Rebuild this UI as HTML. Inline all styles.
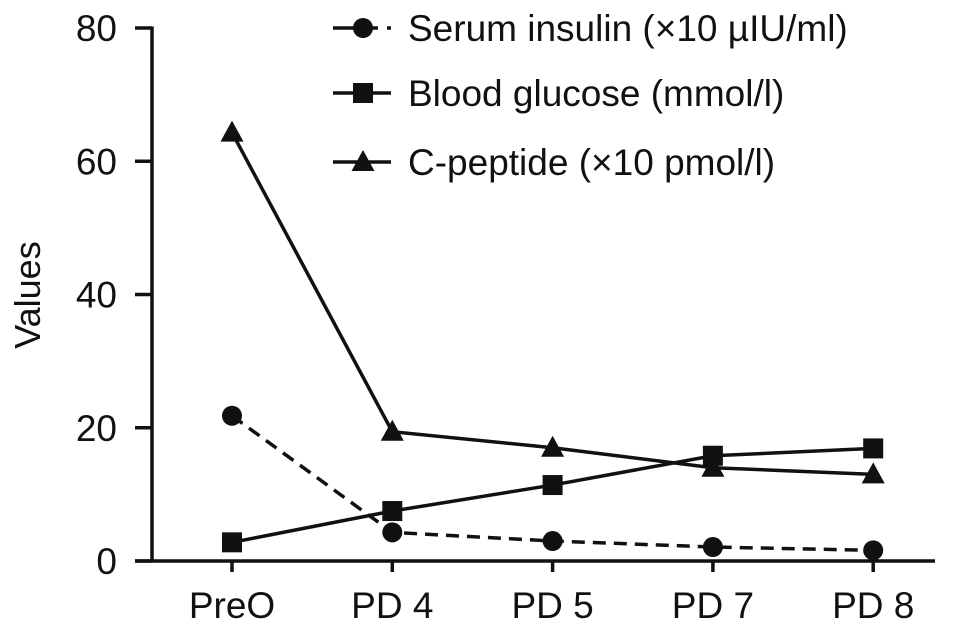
<!DOCTYPE html>
<html><head><meta charset="utf-8"><style>
html,body{margin:0;padding:0;background:#fff}
svg text{font-family:"Liberation Sans",Arial,sans-serif;fill:#111}
</style></head><body>
<svg id="chart" width="969" height="634" xmlns="http://www.w3.org/2000/svg"></svg>
<script>
const categories=["PreO","PD 4","PD 5","PD 7","PD 8"];
const insulin=[21.8,4.3,3.0,2.1,1.6];
const glucose=[2.8,7.5,11.4,15.8,16.9];
const cpeptide=[64.3,19.4,17.0,14.0,13.0];
const yTicks=[0,20,40,60,80];
const legendLabels=["Serum insulin (\u00d710 \u00b5IU/ml)","Blood glucose (mmol/l)","C-peptide (\u00d710 pmol/l)"];
const NS="http://www.w3.org/2000/svg";
const svg=document.getElementById('chart');
const y0=561,y80=28,axX=152;
function ys(v){return y0-(v/80)*(y0-y80);}
function xs(i){return 232+i*160.3;}
function mk(t,a,p){const e=document.createElementNS(NS,t);for(const k in a)e.setAttribute(k,a[k]);(p||svg).appendChild(e);return e;}
let g=mk('g',{});


mk('line',{x1:axX,y1:y80-1.5,x2:axX,y2:y0,stroke:'#111','stroke-width':3.5},g);
yTicks.forEach(t=>{mk('line',{x1:135,y1:ys(t),x2:axX,y2:ys(t),stroke:'#111','stroke-width':3.5},g);
 const tx=mk('text',{x:117,y:ys(t)+13,'text-anchor':'end','font-size':37},g);tx.textContent=t;
 
 });
const yt=mk('text',{x:0,y:0,transform:'translate(40,295) rotate(-90)','text-anchor':'middle','font-size':36});
yt.textContent='Values';


let gx=mk('g',{});


mk('line',{x1:135,y1:y0,x2:935,y2:y0,stroke:'#111','stroke-width':3.5},gx);
categories.forEach((c,i)=>{mk('line',{x1:xs(i),y1:y0,x2:xs(i),y2:572,stroke:'#111','stroke-width':3.5},gx);
 const tx=mk('text',{x:xs(i),y:618,'text-anchor':'middle','font-size':37},gx);tx.textContent=c;
 
 });
function marker(type,x,y,p){
 if(type==='circle')return mk('circle',{cx:x,cy:y,r:10,fill:'#111'},p);
 if(type==='square')return mk('rect',{x:x-10,y:y-10,width:20,height:20,fill:'#111'},p);
 return mk('polygon',{points:`${x},${y-12} ${x-11.5},${y+9} ${x+11.5},${y+9}`,fill:'#111'},p);
}
const series=[[insulin,'circle','13,8','series-serum-insulin'],[glucose,'square','','series-blood-glucose'],[cpeptide,'triangle','','series-c-peptide']];
series.forEach(([d,m,dash,name])=>{
 const sg=mk('g',{});
 
 
 const a={points:d.map((v,i)=>xs(i)+','+ys(v)).join(' '),fill:'none',stroke:'#111','stroke-width':3.5};
 if(dash)a['stroke-dasharray']=dash;
 mk('polyline',a,sg);
 d.forEach((v,i)=>{const e=marker(m,xs(i),ys(v),sg);
  
  });
});
const ly=[28,93,162];
series.forEach(([d,m,dash],k)=>{
 const lg=mk('g',{});
 
 
 mk('line',{x1:333,y1:ly[k],x2:dash?378:391,y2:ly[k],stroke:'#111','stroke-width':3.5},lg);
 if(dash)mk('line',{x1:387,y1:ly[k],x2:391,y2:ly[k],stroke:'#111','stroke-width':3.5},lg);
 marker(m,363,ly[k],lg);
 const tx=mk('text',{x:408,y:ly[k]+13,'font-size':37},lg);tx.textContent=legendLabels[k];
});
</script>
</body></html>
